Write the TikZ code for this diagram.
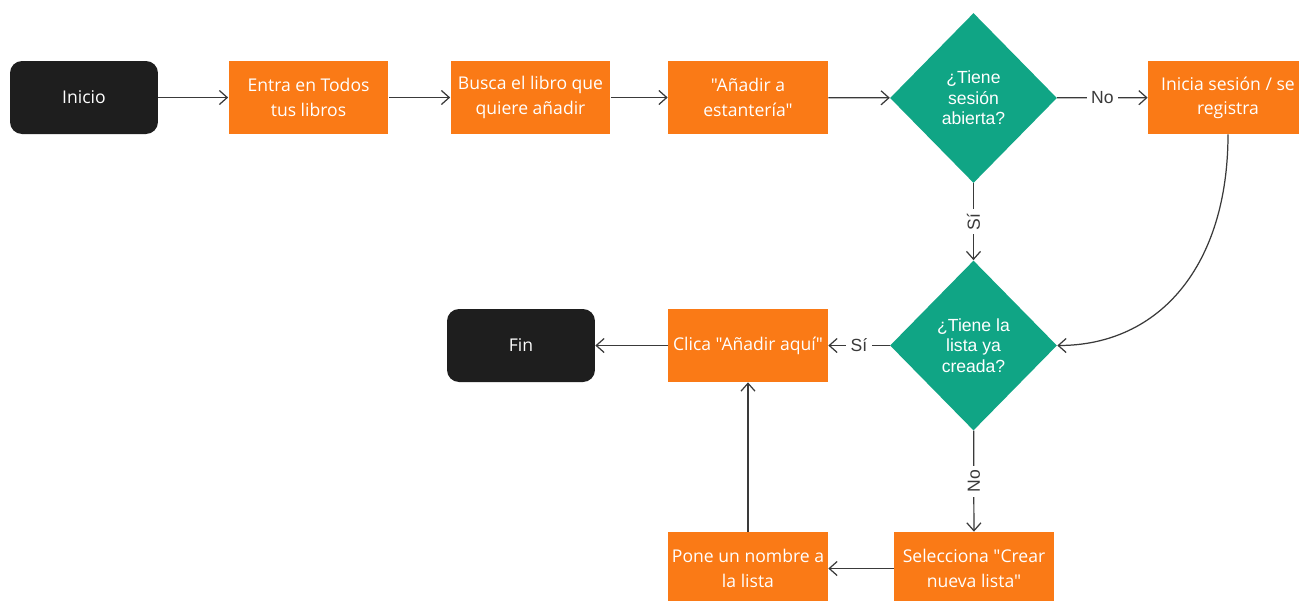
\documentclass[tikz,border=0pt]{standalone}
\usepackage{fontspec}
\setmainfont{Open Sans}[Ligatures=TeXOff]
\newfontfamily\arialf{Liberation Sans}
\usetikzlibrary{shapes.geometric,arrows.meta}
\definecolor{boxorange}{HTML}{FA7A16}
\definecolor{dgreen}{HTML}{10A585}
\definecolor{startblack}{HTML}{1E1E1E}
\definecolor{linegray}{HTML}{3A3A3A}
\tikzset{
  procbox/.style={rectangle, fill=boxorange, text=white, minimum width=3.2cm, minimum height=1.46cm, inner sep=0pt, align=center, font=\fontsize{10}{13.8}\selectfont},
  termbox/.style={rectangle, rounded corners=0.24cm, fill=startblack, text=white, minimum width=2.96cm, minimum height=1.46cm, inner sep=0pt, align=center, font=\fontsize{10}{13.8}\selectfont},
  decbox/.style={diamond, fill=dgreen, text=white, minimum width=3.34cm, minimum height=3.4cm, inner sep=0pt, align=center, font=\arialf\fontsize{10}{11.6}\selectfont},
  conn/.style={draw=linegray, line width=0.7pt, -{Straight Barb[length=4.5pt,width=8pt,line width=0.7pt]}},
  lbl/.style={fill=white, text=linegray, inner sep=2.5pt, font=\arialf\fontsize{10}{12}\selectfont},
}
\begin{document}
\begin{tikzpicture}[x=0.02cm, y=-0.02cm]
\useasboundingbox[fill=white] (0,0) rectangle (1299,600);
\node[termbox] (inicio) at (84,97.5) {Inicio};
\node[procbox] (entra) at (308.5,97.5) {Entra en Todos\\tus libros};
\node[procbox] (busca) at (530.5,97.5) {Busca el libro que\\quiere añadir};
\node[procbox] (anadir) at (748,97.5) {"Añadir a\\estantería"};
\node[decbox] (d1) at (973.5,98) {¿Tiene\\sesión\\abierta?};
\node[procbox] (inicia) at (1228,97.5) {Inicia sesión / se\\registra};
\node[decbox] (d2) at (973.5,345.5) {¿Tiene la\\lista ya\\creada?};
\node[procbox] (clica) at (748,345.5) {Clica "Añadir aquí"};
\node[termbox] (fin) at (521,345.5) {Fin};
\node[procbox] (selec) at (974,568.5) {Selecciona "Crear\\nueva lista"};
\node[procbox] (pone) at (748,568.5) {Pone un nombre a\\la lista};

\draw[conn] (inicio) -- (entra);
\draw[conn] (entra) -- (busca);
\draw[conn] (busca) -- (anadir);
\draw[conn] (anadir) -- (d1);
\draw[conn] (d1) -- node[lbl] {No} (inicia);
\draw[conn] (d1) -- node[lbl, rotate=90] {Sí} (d2);
\draw[conn] (inicia.south) .. controls (1228,265) and (1160,345.5) .. (d2.east);
\draw[conn] (d2) -- node[lbl] {Sí} (clica);
\draw[conn] (clica) -- (fin);
\draw[conn] (d2) -- node[lbl, rotate=90] {No} (selec);
\draw[conn] (selec) -- (pone);
\draw[conn] (pone) -- (clica);
\end{tikzpicture}
\end{document}
